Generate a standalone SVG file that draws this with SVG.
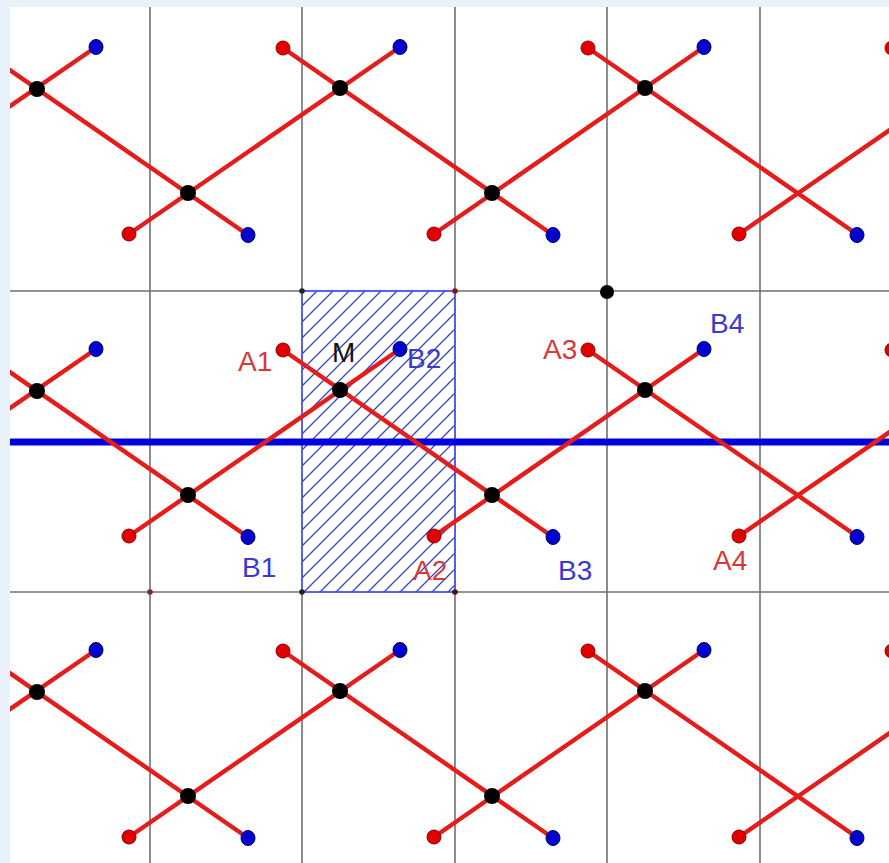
<svg xmlns="http://www.w3.org/2000/svg" xmlns:xlink="http://www.w3.org/1999/xlink" width="889" height="863" viewBox="0 0 889 863">
<style>
.grid{stroke:#707070;stroke-width:1.6;fill:none}
.seg{stroke:#e41c1c;stroke-width:4.4;stroke-linecap:round;fill:none}
.rd{fill:#e00000;stroke:#8a0000;stroke-width:1}
.bd{fill:#0000cc;stroke:#000070;stroke-width:1}
.kd{fill:#000}
.lbl{font-family:"Liberation Sans",Arial,sans-serif;font-size:28px}
.la{fill:#d83838}
.lb{fill:#3a3acc}
</style>
<defs>
<pattern id="hatch" patternUnits="userSpaceOnUse" width="16" height="16">
<path d="M0,16 L16,0 M-4,4 L4,-4 M12,20 L20,12" stroke="#3344cc" stroke-width="1.3"/>
</pattern>
<g id="motif">
<g class="seg">
<line x1="-22" y1="48" x2="248" y2="235"/>
<line x1="283" y1="48" x2="553" y2="235"/>
<line x1="588" y1="48" x2="858" y2="235"/>
<line x1="892" y1="48" x2="1162" y2="235"/>
<line x1="-176" y1="234" x2="96" y2="47"/>
<line x1="129" y1="234" x2="400" y2="47"/>
<line x1="434" y1="234" x2="704" y2="47"/>
<line x1="739" y1="234" x2="1010" y2="47"/>
</g>
<g class="rd">
<circle cx="283" cy="48" r="7"/>
<circle cx="588" cy="48" r="7"/>
<circle cx="892" cy="48" r="7"/>
<circle cx="129" cy="234" r="7"/>
<circle cx="434" cy="234" r="7"/>
<circle cx="739" cy="234" r="7"/>
</g>
<g class="bd">
<ellipse cx="96" cy="47" rx="7" ry="7.5"/>
<ellipse cx="400" cy="47" rx="7" ry="7.5"/>
<ellipse cx="704" cy="47" rx="7" ry="7.5"/>
<ellipse cx="248" cy="235" rx="7" ry="7.5"/>
<ellipse cx="553" cy="235" rx="7" ry="7.5"/>
<ellipse cx="857" cy="235" rx="7" ry="7.5"/>
</g>
<g class="kd">
<circle cx="37" cy="89" r="8"/>
<circle cx="188" cy="193" r="8"/>
<circle cx="340" cy="88" r="8"/>
<circle cx="492" cy="193" r="8"/>
<circle cx="645" cy="88" r="8"/>
</g>
</g>
</defs>
<rect x="0" y="0" width="889" height="863" fill="#fff"/>
<g id="grid" class="grid">
<line x1="150" y1="7" x2="150" y2="863"/>
<line x1="302" y1="7" x2="302" y2="863"/>
<line x1="455" y1="7" x2="455" y2="863"/>
<line x1="607" y1="7" x2="607" y2="863"/>
<line x1="760" y1="7" x2="760" y2="863"/>
<line x1="10" y1="291" x2="889" y2="291"/>
<line x1="10" y1="592" x2="889" y2="592"/>
</g>
<g id="cell">
<rect x="302" y="291" width="153" height="301" fill="url(#hatch)" stroke="#4a55ff" stroke-width="1.6"/>
</g>
<g id="axis">
<line x1="0" y1="442" x2="889" y2="442" stroke="#0000dd" stroke-width="7"/>
</g>
<g id="row-top"><use xlink:href="#motif"/></g>
<g id="row-middle"><use xlink:href="#motif" transform="translate(0,302)"/></g>
<g id="row-bottom"><use xlink:href="#motif" transform="translate(0,603)"/></g>
<g id="grid-points">
<circle cx="607" cy="292" r="7" fill="#000"/>
<circle cx="302" cy="291" r="2.8" fill="#222"/>
<circle cx="455" cy="291" r="2.8" fill="#7a1a1a"/>
<circle cx="302" cy="592" r="2.8" fill="#222"/>
<circle cx="455" cy="592" r="2.8" fill="#4a1010"/>
<circle cx="150" cy="592" r="2.8" fill="#8a2030"/>
</g>
<g id="labels" class="lbl">
<text class="la" x="238" y="371">A1</text>
<text x="332" y="362" fill="#111">M</text>
<text class="lb" x="407" y="368">B2</text>
<text class="la" x="543" y="359">A3</text>
<text class="lb" x="710" y="333">B4</text>
<text class="lb" x="242" y="577">B1</text>
<text class="la" x="413" y="580">A2</text>
<text class="lb" x="558" y="580">B3</text>
<text class="la" x="713" y="570">A4</text>
</g>
<g id="frame" fill="#e9f1fa">
<rect x="0" y="0" width="889" height="7"/>
<rect x="0" y="0" width="10" height="863"/>
</g>
</svg>
